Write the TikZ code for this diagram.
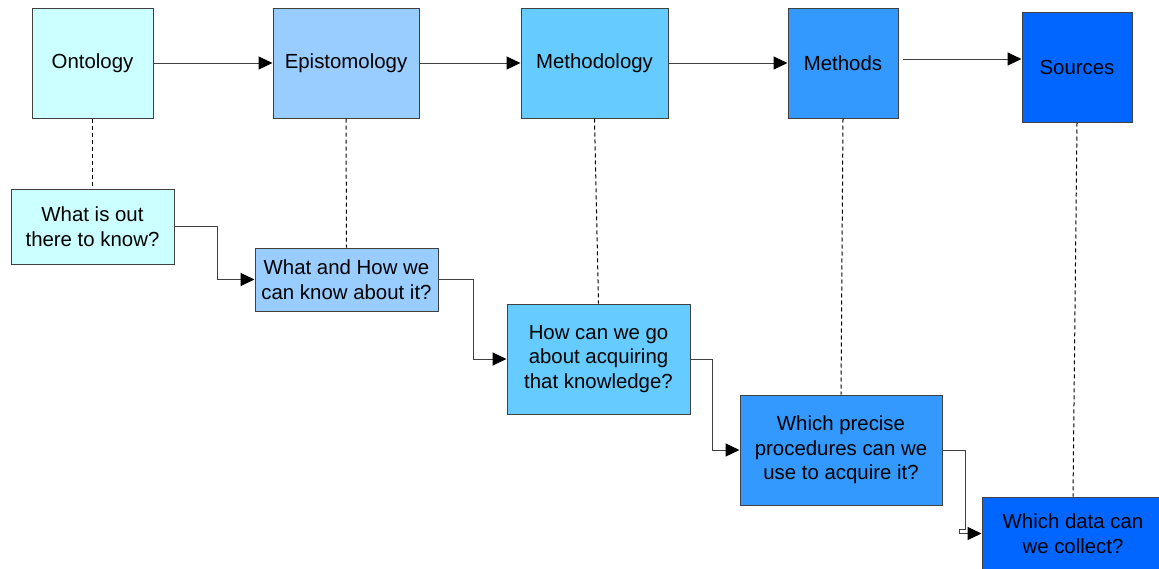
\documentclass[tikz,border=0pt]{standalone}
\usepackage{fontspec}
\setmainfont{Liberation Sans}
\usetikzlibrary{arrows.meta}
\definecolor{toneA}{HTML}{CCFFFF}
\definecolor{toneB}{HTML}{99CCFF}
\definecolor{toneC}{HTML}{66CCFF}
\definecolor{toneD}{HTML}{3399FF}
\definecolor{toneE}{HTML}{0066FF}
\definecolor{edgegray}{HTML}{404040}
\begin{document}
\begin{tikzpicture}[x=1pt,y=-1pt,
  font=\fontsize{20.4}{24.6}\selectfont,
  box/.style={draw=edgegray,line width=1pt,inner sep=0pt,align=center},
  link/.style={draw=edgegray,line width=1pt,-{Triangle[length=14pt,width=13pt,color=black]}},
  guide/.style={draw=black,line width=1pt,dash pattern=on 4pt off 3pt}]
\useasboundingbox (0,0) rectangle (1159,568);
\clip (0,0) rectangle (1159,568);

% top row: the research stages
\node[box,fill=toneA,minimum width=121pt,minimum height=110pt] (onto) at (92.5,63) {Ontology};
\node[box,fill=toneB,minimum width=146pt,minimum height=110pt] (epi)  at (346,63)   {Epistomology};
\node[box,fill=toneC,minimum width=147pt,minimum height=110pt] (meth) at (594.5,63) {Methodology};
\node[box,fill=toneD,minimum width=110pt,minimum height=110pt] (mtds) at (843,63)   {Methods};
\node[box,fill=toneE,minimum width=110pt,minimum height=110pt] (src)  at (1077,67)  {Sources};

% lower staircase: the question behind each stage
\node[box,fill=toneA,minimum width=163pt,minimum height=75pt]  (q1) at (92.5,226.5) {What is out\\there to know?};
\node[box,fill=toneB,minimum width=183pt,minimum height=63pt]  (q2) at (346.5,279.5) {What and How we\\can know about it?};
\node[box,fill=toneC,minimum width=183pt,minimum height=110pt] (q3) at (598.5,359) {How can we go\\about acquiring\\that knowledge?};
\node[box,fill=toneD,minimum width=202pt,minimum height=110pt] (q4) at (841,450) {Which precise\\procedures can we\\use to acquire it?};
\node[box,fill=toneE,minimum width=182pt,minimum height=73pt]  (q5) at (1073,533.5) {Which data can\\we collect?};

% arrows along the top row
\draw[link] (onto.east) -- (epi.west);
\draw[link] (epi.east) -- (meth.west);
\draw[link] (meth.east) -- (mtds.west);
\draw[link] ([xshift=4pt,yshift=4pt]mtds.east) -- ([yshift=8pt]src.west);

% dashed ties between each stage and its question
\draw[guide] (onto.south) -- (q1.north);
\draw[guide] (epi.south) -- (q2.north);
\draw[guide] (meth.south) -- (q3.north);
\draw[guide] (mtds.south) -- (q4.north);
\draw[guide] (src.south) -- (q5.north);

% elbow arrows down the staircase
\draw[link] (q1.east) -- ++(43,0) |- (q2.west);
\draw[link] (q2.east) -- ++(35,0) |- (q3.west);
\draw[link] (q3.east) -- ++(22,0) |- (q4.west);
\draw[link] (q4.east) -- ++(23,0) -- ++(0,79) -- ++(-6,0) -- ++(0,4.5) -- (q5.west);
\end{tikzpicture}
\end{document}
